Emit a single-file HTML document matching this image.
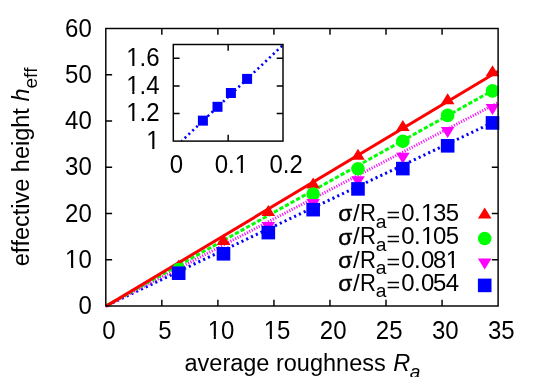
<!DOCTYPE html>
<html><head><meta charset="utf-8"><title>effective height vs average roughness</title>
<style>svg{will-change:transform}html,body{margin:0;padding:0;background:#fff;overflow:hidden}body{width:538px;height:377px;position:relative;font-family:"Liberation Sans",sans-serif}</style>
</head><body>
<svg width="538" height="377" viewBox="0 0 538 377" style="display:block;position:absolute;left:0;top:0">
<rect width="538" height="377" fill="#fff"/>
<defs>
<clipPath id="cm"><rect x="103.8" y="28.5" width="394.30" height="279.50"/></clipPath>
<clipPath id="ci"><rect x="173.3" y="44.5" width="109.70" height="96.60"/></clipPath>
</defs>
<g stroke="#000" stroke-width="1.45" fill="none">
<path d="M161.84,306.0v-6.3 M161.84,28.5v6.3"/>
<path d="M217.89,306.0v-6.3 M217.89,28.5v6.3"/>
<path d="M273.93,306.0v-6.3 M273.93,28.5v6.3"/>
<path d="M329.97,306.0v-6.3 M329.97,28.5v6.3"/>
<path d="M386.01,306.0v-6.3 M386.01,28.5v6.3"/>
<path d="M442.06,306.0v-6.3 M442.06,28.5v6.3"/>
<path d="M105.8,259.75h6.3 M498.1,259.75h-6.3"/>
<path d="M105.8,213.50h6.3 M498.1,213.50h-6.3"/>
<path d="M105.8,167.25h6.3 M498.1,167.25h-6.3"/>
<path d="M105.8,121.00h6.3 M498.1,121.00h-6.3"/>
<path d="M105.8,74.75h6.3 M498.1,74.75h-6.3"/>
</g>
<g clip-path="url(#cm)" fill="none">
<line x1="105.80" y1="306.00" x2="498.10" y2="120.01" stroke="#0000ff" stroke-width="3.0" stroke-dasharray="2.12 3.18" stroke-dashoffset="-1.75"/>
<line x1="105.80" y1="306.00" x2="498.10" y2="102.69" stroke="#ff00ff" stroke-width="3.0" stroke-dasharray="1.06 1.59" stroke-dashoffset="0"/>
<line x1="105.80" y1="306.00" x2="498.10" y2="87.47" stroke="#00ff00" stroke-width="3.0" stroke-dasharray="4.24 2.12" stroke-dashoffset="-1.7"/>
<line x1="105.80" y1="306.37" x2="498.10" y2="71.33" stroke="#ff0000" stroke-width="3.0"/>
</g>
<g>
<polygon points="178.66,259.48 171.86,270.50 185.46,270.50" fill="#ff0000"/>
<polygon points="223.49,234.03 216.69,245.05 230.29,245.05" fill="#ff0000"/>
<polygon points="268.32,205.08 261.52,216.10 275.12,216.10" fill="#ff0000"/>
<polygon points="313.16,177.58 306.36,188.60 319.96,188.60" fill="#ff0000"/>
<polygon points="357.99,148.78 351.19,159.80 364.79,159.80" fill="#ff0000"/>
<polygon points="402.83,120.08 396.03,131.10 409.63,131.10" fill="#ff0000"/>
<polygon points="447.66,93.13 440.86,104.15 454.46,104.15" fill="#ff0000"/>
<polygon points="492.50,65.18 485.70,76.20 499.30,76.20" fill="#ff0000"/>
<circle cx="178.66" cy="269.50" r="6.80" fill="#00ff00"/>
<circle cx="313.16" cy="194.00" r="6.80" fill="#00ff00"/>
<circle cx="357.99" cy="168.80" r="6.80" fill="#00ff00"/>
<circle cx="402.83" cy="141.20" r="6.80" fill="#00ff00"/>
<circle cx="447.66" cy="115.40" r="6.80" fill="#00ff00"/>
<circle cx="492.50" cy="90.90" r="6.80" fill="#00ff00"/>
<polygon points="268.32,233.07 261.52,222.05 275.12,222.05" fill="#ff00ff"/>
<polygon points="313.16,209.92 306.36,198.90 319.96,198.90" fill="#ff00ff"/>
<polygon points="357.99,187.22 351.19,176.20 364.79,176.20" fill="#ff00ff"/>
<polygon points="402.83,163.72 396.03,152.70 409.63,152.70" fill="#ff00ff"/>
<polygon points="447.66,138.02 440.86,127.00 454.46,127.00" fill="#ff00ff"/>
<polygon points="492.50,114.92 485.70,103.90 499.30,103.90" fill="#ff00ff"/>
<rect x="171.86" y="266.40" width="13.60" height="13.60" fill="#0000ff"/>
<rect x="216.69" y="247.00" width="13.60" height="13.60" fill="#0000ff"/>
<rect x="261.52" y="225.80" width="13.60" height="13.60" fill="#0000ff"/>
<rect x="306.36" y="202.85" width="13.60" height="13.60" fill="#0000ff"/>
<rect x="351.19" y="182.10" width="13.60" height="13.60" fill="#0000ff"/>
<rect x="396.03" y="161.80" width="13.60" height="13.60" fill="#0000ff"/>
<rect x="440.86" y="139.00" width="13.60" height="13.60" fill="#0000ff"/>
<rect x="485.70" y="116.10" width="13.60" height="13.60" fill="#0000ff"/>
</g>
<polygon points="484.70,207.38 477.90,218.40 491.50,218.40" fill="#ff0000"/>
<circle cx="484.70" cy="238.50" r="6.80" fill="#00ff00"/>
<polygon points="484.70,269.52 477.90,258.50 491.50,258.50" fill="#ff00ff"/>
<rect x="477.90" y="278.60" width="13.60" height="13.60" fill="#0000ff"/>
<rect x="105.8" y="28.5" width="392.30" height="277.50" stroke="#000" stroke-width="1.45" fill="none"/>
<g clip-path="url(#ci)" fill="none">
<line x1="181.60" y1="141.10" x2="288.49" y2="39.77" stroke="#0000ff" stroke-width="2.6" stroke-dasharray="2.1 3.19" stroke-dashoffset="1.05"/>
</g>
<rect x="197.90" y="115.65" width="10.00" height="10.00" fill="#0000ff"/>
<rect x="212.50" y="101.80" width="10.00" height="10.00" fill="#0000ff"/>
<rect x="225.90" y="88.00" width="10.00" height="10.00" fill="#0000ff"/>
<rect x="242.10" y="73.90" width="10.00" height="10.00" fill="#0000ff"/>
<g stroke="#000" stroke-width="1.45" fill="none">
<rect x="173.3" y="44.5" width="109.70" height="96.60"/>
<path d="M228.15,141.1v-6.3 M228.15,44.5v6.3"/>
<path d="M173.3,113.50h6.3 M283.0,113.50h-6.3"/>
<path d="M173.3,85.90h6.3 M283.0,85.90h-6.3"/>
<path d="M173.3,58.30h6.3 M283.0,58.30h-6.3"/>
</g>
<g font-family="'Liberation Sans', sans-serif" font-size="24" fill="#000" style="font-kerning:none">
<text transform="translate(78.45,314.20) scale(1,1.065)">0</text>
<text transform="translate(65.10,267.95) scale(1,1.065)">10</text>
<text transform="translate(65.10,221.70) scale(1,1.065)">20</text>
<text transform="translate(65.10,175.45) scale(1,1.065)">30</text>
<text transform="translate(65.10,129.20) scale(1,1.065)">40</text>
<text transform="translate(65.10,82.95) scale(1,1.065)">50</text>
<text transform="translate(65.10,36.70) scale(1,1.065)">60</text>
<text transform="translate(102.33,338.90) scale(1,1.065)">0</text>
<text transform="translate(158.37,338.90) scale(1,1.065)">5</text>
<text transform="translate(207.74,338.90) scale(1,1.065)">10</text>
<text transform="translate(263.78,338.90) scale(1,1.065)">15</text>
<text transform="translate(319.82,338.90) scale(1,1.065)">20</text>
<text transform="translate(375.87,338.90) scale(1,1.065)">25</text>
<text transform="translate(431.91,338.90) scale(1,1.065)">30</text>
<text transform="translate(487.95,338.90) scale(1,1.065)">35</text>
<text transform="translate(146.25,149.00) scale(1,1.065)">1</text>
<text transform="translate(126.24,121.40) scale(1,1.065)">1.2</text>
<text transform="translate(126.24,93.80) scale(1,1.065)">1.4</text>
<text transform="translate(126.24,66.20) scale(1,1.065)">1.6</text>
<text transform="translate(169.83,172.70) scale(1,1.065)">0</text>
<text transform="translate(214.67,172.70) scale(1,1.065)">0.1</text>
<text transform="translate(269.52,172.70) scale(1,1.065)">0.2</text>
<text transform="translate(338.3,221.20) scale(0.95,0.91)" stroke="#000" stroke-width="0.45">σ</text><text x="353.0" y="220.8">/</text><text transform="translate(360.0,220.8) scale(0.92,1.025)">R</text><text x="375.8" y="227.7" font-size="19.2">a</text><text transform="translate(386.6,222.40) scale(0.975,0.82)">=</text><text transform="translate(0,220.8) scale(1,1.035)" x="401.3 414.1 420.9 433.0 445.8" y="0">0.135</text>
<text transform="translate(338.3,244.50) scale(0.95,0.91)" stroke="#000" stroke-width="0.45">σ</text><text x="353.0" y="244.1">/</text><text transform="translate(360.0,244.1) scale(0.92,1.025)">R</text><text x="375.8" y="251.0" font-size="19.2">a</text><text transform="translate(386.6,245.70) scale(0.975,0.82)">=</text><text transform="translate(0,244.1) scale(1,1.035)" x="401.3 414.1 420.9 433.0 445.8" y="0">0.105</text>
<text transform="translate(338.3,267.90) scale(0.95,0.91)" stroke="#000" stroke-width="0.45">σ</text><text x="353.0" y="267.5">/</text><text transform="translate(360.0,267.5) scale(0.92,1.025)">R</text><text x="375.8" y="274.4" font-size="19.2">a</text><text transform="translate(386.6,269.10) scale(0.975,0.82)">=</text><text transform="translate(0,267.5) scale(1,1.035)" x="401.3 414.1 420.9 433.0 445.8" y="0">0.081</text>
<text transform="translate(338.3,290.90) scale(0.95,0.91)" stroke="#000" stroke-width="0.45">σ</text><text x="353.0" y="290.5">/</text><text transform="translate(360.0,290.5) scale(0.92,1.025)">R</text><text x="375.8" y="297.4" font-size="19.2">a</text><text transform="translate(386.6,292.10) scale(0.975,0.82)">=</text><text transform="translate(0,290.5) scale(1,1.035)" x="401.3 414.1 420.9 433.0 445.8" y="0">0.054</text>
<text x="184.5" y="371.0" font-size="23.5">average roughness <tspan font-style="italic" dx="1.1">R</tspan><tspan font-style="italic" dy="6.5" dx="-0.5" font-size="19.2">a</tspan></text>
<text transform="translate(29.3,266.2) rotate(-90)" font-size="23.5">effective height <tspan font-style="italic">h</tspan><tspan dy="7.4" font-size="19">eff</tspan></text>
</g>
<rect x="66.06" y="266" width="5.08" height="2" fill="#fff"/>
<rect x="73.26" y="266" width="4.92" height="2" fill="#fff"/>
<rect x="208.70" y="336" width="5.08" height="3" fill="#fff"/>
<rect x="215.89" y="336" width="4.92" height="3" fill="#fff"/>
<rect x="264.74" y="336" width="5.08" height="3" fill="#fff"/>
<rect x="271.93" y="336" width="4.92" height="3" fill="#fff"/>
<rect x="147.21" y="147" width="5.08" height="3" fill="#fff"/>
<rect x="154.41" y="147" width="4.92" height="3" fill="#fff"/>
<rect x="127.20" y="119" width="5.08" height="3" fill="#fff"/>
<rect x="134.39" y="119" width="4.92" height="3" fill="#fff"/>
<rect x="127.20" y="91" width="5.08" height="3" fill="#fff"/>
<rect x="134.39" y="91" width="4.92" height="3" fill="#fff"/>
<rect x="127.20" y="64" width="5.08" height="3" fill="#fff"/>
<rect x="134.39" y="64" width="4.92" height="3" fill="#fff"/>
<rect x="235.64" y="170" width="5.08" height="3" fill="#fff"/>
<rect x="242.84" y="170" width="4.92" height="3" fill="#fff"/>
<rect x="421.86" y="218" width="5.08" height="3" fill="#fff"/>
<rect x="429.06" y="218" width="4.92" height="3" fill="#fff"/>
<rect x="421.86" y="242" width="5.08" height="3" fill="#fff"/>
<rect x="429.06" y="242" width="4.92" height="3" fill="#fff"/>
<rect x="446.76" y="265" width="5.08" height="3" fill="#fff"/>
<rect x="453.96" y="265" width="4.92" height="3" fill="#fff"/>
</svg>
</body></html>
